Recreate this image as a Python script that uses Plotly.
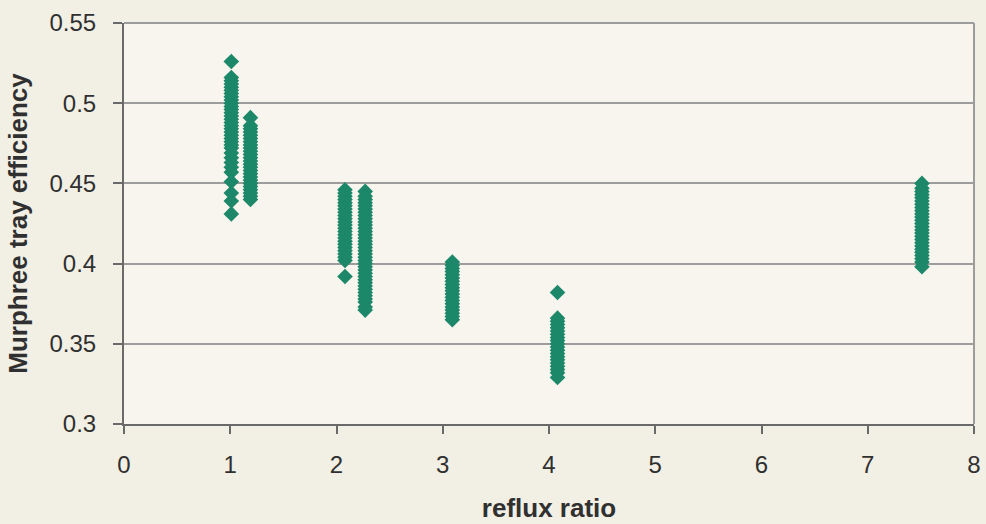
import plotly.graph_objects as go

# Measured Murphree tray efficiency at each reflux ratio setting
reflux_ratios = [1.01, 1.19, 2.08, 2.27, 3.09, 4.08, 7.51]

eff_r101 = [0.526, 0.516, 0.514, 0.512, 0.510, 0.508, 0.506, 0.504, 0.502, 0.500,
            0.498, 0.496, 0.494, 0.492, 0.490, 0.488, 0.486, 0.484, 0.482, 0.480,
            0.478, 0.476, 0.474, 0.472, 0.469, 0.466, 0.463, 0.460, 0.457, 0.451,
            0.444, 0.439, 0.431]
eff_r119 = [0.491, 0.486, 0.484, 0.482, 0.480, 0.478, 0.476, 0.474, 0.472, 0.470,
            0.468, 0.466, 0.464, 0.462, 0.460, 0.458, 0.456, 0.454, 0.452, 0.450,
            0.448, 0.446, 0.444, 0.442, 0.440]
eff_r208 = [0.446, 0.444, 0.442, 0.440, 0.438, 0.436, 0.434, 0.432, 0.430, 0.428,
            0.426, 0.424, 0.422, 0.420, 0.418, 0.416, 0.414, 0.412, 0.410, 0.408,
            0.406, 0.404, 0.402, 0.392]
eff_r227 = [0.445, 0.442, 0.440, 0.438, 0.436, 0.434, 0.432, 0.430, 0.428, 0.426,
            0.424, 0.422, 0.420, 0.418, 0.416, 0.414, 0.412, 0.410, 0.408, 0.406,
            0.404, 0.402, 0.400, 0.398, 0.396, 0.394, 0.392, 0.390, 0.388, 0.386,
            0.384, 0.382, 0.380, 0.378, 0.376, 0.373, 0.371]
eff_r309 = [0.401, 0.399, 0.397, 0.395, 0.393, 0.391, 0.389, 0.387, 0.385, 0.383,
            0.381, 0.379, 0.377, 0.375, 0.373, 0.371, 0.369, 0.367, 0.365]
eff_r408 = [0.382, 0.366, 0.364, 0.362, 0.360, 0.358, 0.356, 0.354, 0.352, 0.350,
            0.348, 0.346, 0.344, 0.342, 0.340, 0.338, 0.336, 0.334, 0.332, 0.329]
eff_r751 = [0.450, 0.447, 0.445, 0.443, 0.441, 0.439, 0.437, 0.435, 0.433, 0.431,
            0.429, 0.427, 0.425, 0.423, 0.421, 0.419, 0.417, 0.415, 0.413, 0.411,
            0.409, 0.407, 0.405, 0.403, 0.401, 0.398]

efficiency_sets = [eff_r101, eff_r119, eff_r208, eff_r227, eff_r309, eff_r408, eff_r751]

x_tick_vals = [0, 1, 2, 3, 4, 5, 6, 7, 8]
y_tick_vals = [0.3, 0.35, 0.4, 0.45, 0.5, 0.55]
y_tick_text = ["0.3", "0.35", "0.4", "0.45", "0.5", "0.55"]

xs, ys = [], []
for r, effs in zip(reflux_ratios, efficiency_sets):
    xs.extend([r] * len(effs))
    ys.extend(effs)

font_family = "Liberation Sans, Arial, sans-serif"
axis_dark = "#6a6a6a"
grid_grey = "#9c9c9c"
text_color = "#303030"

fig = go.Figure(
    go.Scatter(
        x=xs, y=ys, mode="markers",
        marker=dict(symbol="diamond", size=12, color="#1c8869", line=dict(width=0)),
        showlegend=False,
    )
)

fig.update_layout(
    width=986, height=524,
    margin=dict(l=124, r=12, t=23, b=100),
    paper_bgcolor="#f2efe4",
    plot_bgcolor="#f7f5ee",
    font=dict(family=font_family, size=24, color=text_color),
    xaxis=dict(
        range=[0, 8], tickvals=x_tick_vals, ticks="outside", ticklen=8,
        tickcolor=axis_dark, tickwidth=1.5, showline=True, linecolor=axis_dark,
        linewidth=2, showgrid=False, zeroline=False, ticklabelstandoff=10,
        automargin=False,
        title=dict(text="<b>reflux ratio</b>", font=dict(size=26, color=text_color),
                   standoff=22),
    ),
    yaxis=dict(
        range=[0.3, 0.55], tickvals=y_tick_vals, ticktext=y_tick_text,
        ticks="outside", ticklen=9, tickcolor=axis_dark, tickwidth=1.5,
        showline=True, linecolor=axis_dark, linewidth=2, showgrid=True,
        gridcolor=grid_grey, gridwidth=1.5, zeroline=False, ticklabelstandoff=12,
        automargin=False,
        title=dict(text="<b>Murphree tray efficiency</b>",
                   font=dict(size=26, color=text_color), standoff=14),
    ),
    shapes=[
        # right and top edges of the plotting frame
        dict(type="line", xref="paper", yref="paper", x0=1, x1=1, y0=0, y1=1,
             line=dict(color=grid_grey, width=2)),
        dict(type="line", xref="paper", yref="paper", x0=0, x1=1, y0=1, y1=1,
             line=dict(color=grid_grey, width=2)),
    ],
)

fig.write_html("out.html")
